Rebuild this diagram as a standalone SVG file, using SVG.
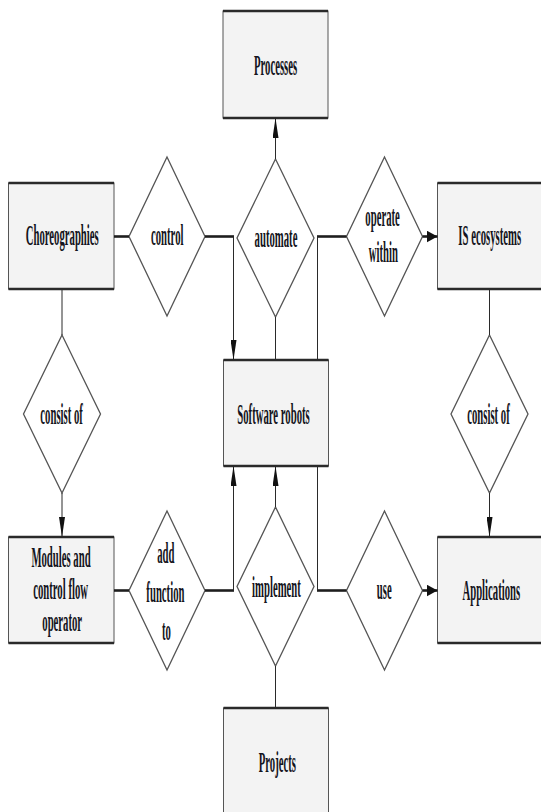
<svg xmlns="http://www.w3.org/2000/svg" width="541" height="812" viewBox="0 0 541 812">
<style>
.box{fill:#f3f3f3;stroke:#555;stroke-width:1}
.edge{stroke:#2a2a2a;stroke-width:2.6;fill:none}
.dia{fill:#fff;stroke:#555;stroke-width:1.3}
.t{font-family:"Liberation Serif","Times New Roman",serif;font-size:30px;font-weight:bold;fill:#141420;text-anchor:middle}
.h{stroke:#1e1e1e;stroke-width:2.6;fill:none}
.v{stroke:#2a2a2a;stroke-width:1;fill:none}
</style>
<defs>
<marker id="ah" markerUnits="userSpaceOnUse" viewBox="0 0 11 12" markerWidth="11" markerHeight="12" refX="11" refY="6" orient="auto"><path d="M0,0 L11,6 L0,12 z" fill="#111"/></marker>
<marker id="av" markerUnits="userSpaceOnUse" viewBox="0 0 20 6" markerWidth="20" markerHeight="6" refX="20" refY="3" orient="auto"><path d="M0,0 L20,3 L0,6 z" fill="#111"/></marker>
</defs>
<rect width="541" height="812" fill="#fff"/>

<g id="processes"><rect class="box" x="223" y="11" width="105" height="107"/><path class="edge" d="M223,11 H328 M223,118 H328"/><text class="t" transform="translate(275.6,75) scale(0.357,1)">Processes</text></g>
<g id="choreographies"><rect class="box" x="8.5" y="183" width="105.5" height="106"/><path class="edge" d="M8.5,183 H114 M8.5,289 H114"/><text class="t" transform="translate(62.2,245) scale(0.357,1)">Choreographies</text></g>
<g id="is-ecosystems"><rect class="box" x="437.5" y="183" width="106" height="106"/><path class="edge" d="M437.5,183 H543.5 M437.5,289 H543.5"/><text class="t" transform="translate(489.7,245) scale(0.357,1)">IS ecosystems</text></g>
<g id="software-robots"><rect class="box" x="223.5" y="360" width="105" height="106"/><path class="edge" d="M223.5,360 H328.5 M223.5,466 H328.5"/><text class="t" transform="translate(273.5,424) scale(0.357,1)">Software robots</text></g>
<g id="modules"><rect class="box" x="8.5" y="537" width="105.5" height="106"/><path class="edge" d="M8.5,537 H114 M8.5,643 H114"/><text class="t" transform="translate(61,567) scale(0.357,1)">Modules and</text><text class="t" transform="translate(60.6,599) scale(0.357,1)">control flow</text><text class="t" transform="translate(62.2,631) scale(0.357,1)">operator</text></g>
<g id="applications"><rect class="box" x="437.5" y="537" width="106" height="106"/><path class="edge" d="M437.5,537 H543.5 M437.5,643 H543.5"/><text class="t" transform="translate(491.3,600) scale(0.357,1)">Applications</text></g>
<g id="projects"><rect class="box" x="223.5" y="708" width="105" height="106"/><path class="edge" d="M223.5,708 H328.5"/><text class="t" transform="translate(277.3,772) scale(0.357,1)">Projects</text></g>

<g id="control"><path class="dia" d="M167,157 L205,236.5 L167,316 L129,236.5 z"/><text class="t" transform="translate(167.2,245) scale(0.357,1)">control</text></g>
<g id="automate"><path class="dia" d="M275.5,159 L314,238 L275.5,317 L237,238 z"/><text class="t" transform="translate(276,247) scale(0.357,1)">automate</text></g>
<g id="operate-within"><path class="dia" d="M384.5,157 L422.5,236.5 L384.5,316 L346.5,236.5 z"/><text class="t" transform="translate(382.6,226) scale(0.357,1)">operate</text><text class="t" transform="translate(383.3,262) scale(0.357,1)">within</text></g>
<g id="consist-of-left"><path class="dia" d="M62,335 L100.5,414 L62,493 L23.5,414 z"/><text class="t" transform="translate(61.6,424) scale(0.357,1)">consist of</text></g>
<g id="consist-of-right"><path class="dia" d="M489.5,335 L528,414 L489.5,493 L451,414 z"/><text class="t" transform="translate(488.5,424) scale(0.357,1)">consist of</text></g>
<g id="add-function-to"><path class="dia" d="M167,511 L205,590.5 L167,670 L129,590.5 z"/><text class="t" transform="translate(165.8,563) scale(0.357,1)">add</text><text class="t" transform="translate(165.4,601.7) scale(0.357,1)">function</text><text class="t" transform="translate(166.5,640) scale(0.357,1)">to</text></g>
<g id="implement"><path class="dia" d="M275.5,507 L314,586.5 L275.5,666 L237,586.5 z"/><text class="t" transform="translate(276.5,597) scale(0.357,1)">implement</text></g>
<g id="use"><path class="dia" d="M384.5,511 L422.5,590.5 L384.5,670 L346.5,590.5 z"/><text class="t" transform="translate(384.2,599) scale(0.357,1)">use</text></g>

<g id="connectors">
<path class="h" d="M114,236.5 H129"/>
<path class="h" d="M205,236.5 H234"/>
<path class="v" d="M233.5,236.5 V360" marker-end="url(#av)"/>
<path class="v" d="M275.5,159 V118" marker-end="url(#av)"/>
<path class="v" d="M275.5,317 V360"/>
<path class="h" d="M317,236.5 H346.5"/>
<path class="v" d="M317.5,236.5 V360"/>
<path class="h" d="M422.5,236.5 H437.5" marker-end="url(#ah)"/>
<path class="v" d="M62,289 V335"/>
<path class="v" d="M62,493 V537" marker-end="url(#av)"/>
<path class="v" d="M489.5,289 V335"/>
<path class="v" d="M489.5,493 V537" marker-end="url(#av)"/>
<path class="h" d="M114,590.5 H129"/>
<path class="h" d="M205,590.5 H234"/>
<path class="v" d="M233.5,590.5 V466" marker-end="url(#av)"/>
<path class="v" d="M275.5,507 V466" marker-end="url(#av)"/>
<path class="v" d="M275.5,666 V708"/>
<path class="h" d="M317,590.5 H346.5"/>
<path class="v" d="M317.5,590.5 V466"/>
<path class="h" d="M422.5,590.5 H437.5" marker-end="url(#ah)"/>
</g>
</svg>
